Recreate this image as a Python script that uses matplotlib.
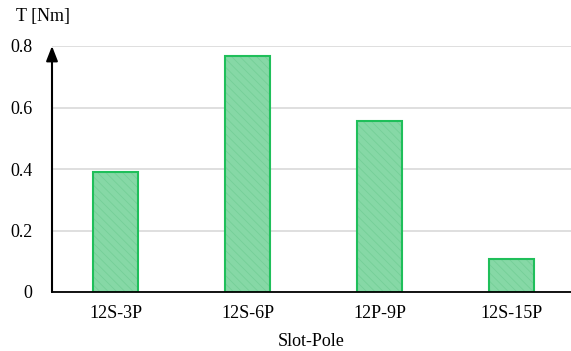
import matplotlib.pyplot as plt

plt.rcParams['font.family'] = ['Liberation Serif', 'DejaVu Serif']
plt.rcParams['hatch.linewidth'] = 0.6

# torque per slot-pole combination
categories = ['12S-3P', '12S-6P', '12P-9P', '12S-15P']
torque = [0.39, 0.767, 0.556, 0.107]
yticks = [0, 0.2, 0.4, 0.6, 0.8]
ytick_labels = ['0', '0.2', '0.4', '0.6', '0.8']

FACE = '#86d8a6'
HATCH = '#75cf98'
EDGE = '#1fbf5a'
FS = 13

fig = plt.figure(figsize=(5.71, 3.51), dpi=100)
ax = fig.add_axes([52 / 571, 59 / 351, 519 / 571, 246 / 351])

x = range(len(categories))
# filled bars with fine diagonal hatch, then the outline on top
ax.bar(x, torque, width=0.34, color=FACE, edgecolor=HATCH, hatch='\\\\\\\\',
       linewidth=0, zorder=2)
ax.bar(x, torque, width=0.34, fill=False, edgecolor=EDGE, linewidth=1.5, zorder=3)

ax.set_xlim(-0.481, 3.451)
ax.set_ylim(0, 0.8)
ax.set_xticks(list(x))
ax.set_xticklabels(categories, fontsize=FS)
ax.set_yticks(yticks)
ax.set_yticklabels(ytick_labels, fontsize=FS)
ax.tick_params(length=0)
ax.tick_params(axis='x', pad=9)
ax.tick_params(axis='y', pad=14)

ax.grid(axis='y', color='#d9d9d9', linewidth=1.2, zorder=0)
for s in ['top', 'right', 'left']:
    ax.spines[s].set_visible(False)
ax.spines['bottom'].set_linewidth(1.3)
ax.spines['bottom'].set_zorder(4)

# y axis drawn as an arrow
ax.annotate('', xy=(0, 1.0), xytext=(0, 0), xycoords='axes fraction',
            arrowprops=dict(arrowstyle='-|>,head_length=0.9,head_width=0.35',
                            color='black', lw=1.5, shrinkA=0, shrinkB=0),
            zorder=5)

fig.text(43 / 571, 1 - 17 / 351, 'T [Nm]', fontsize=FS, ha='center', va='center')
ax.set_xlabel('Slot-Pole', fontsize=FS, labelpad=8)

fig.savefig('out.png', dpi=100)
